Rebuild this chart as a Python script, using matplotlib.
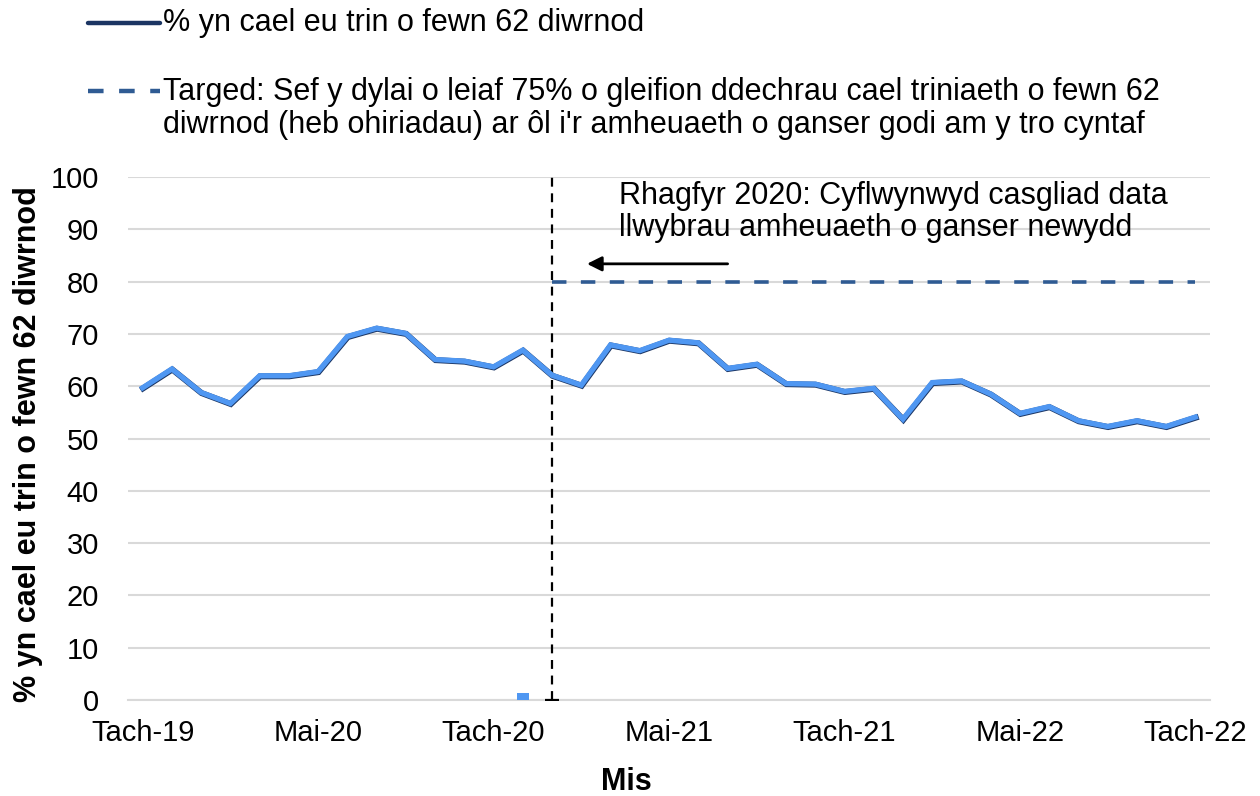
import matplotlib
matplotlib.use("Agg")
import matplotlib.pyplot as plt
import matplotlib.patheffects as pe
from matplotlib.lines import Line2D

plt.rcParams["font.family"] = ["Liberation Sans", "DejaVu Sans"]

# monthly data, Tach-19 (Nov 2019) to Tach-22 (Nov 2022)
months = list(range(37))
pct_62_days = [
    59.7, 63.3, 58.8, 56.7, 62.0, 62.0, 62.8, 69.5, 71.1, 70.1, 65.1, 64.8,
    63.7, 66.9, 62.1, 60.2, 67.9, 66.8, 68.8, 68.3, 63.4, 64.2, 60.5, 60.4,
    59.0, 59.6, 53.7, 60.7, 61.0, 58.5, 54.8, 56.1, 53.4, 52.3, 53.4, 52.3,
    54.1,
]
target_months = list(range(14, 37))
target_vals = [80] * len(target_months)
marker_month = 13
marker_val = 1.3
change_month = 14

tick_pos = [0, 6, 12, 18, 24, 30, 36]
tick_labels = ["Tach-19", "Mai-20", "Tach-20", "Mai-21", "Tach-21", "Mai-22", "Tach-22"]

LIGHT = "#4F97F2"
NAVY = "#1B3563"
TARGET = "#2F5B93"

fig = plt.figure(figsize=(12.6, 7.96), dpi=100)
ax = fig.add_axes([0.1016, 0.1206, 0.8587, 0.657])

ax.set_ylim(0, 100)
ax.set_xlim(-0.5, 36.5)
ax.set_yticks(range(0, 101, 10))
ax.grid(axis="y", color="#d9d9d9", linewidth=1.5)
ax.set_axisbelow(True)
for s in ["top", "right", "left"]:
    ax.spines[s].set_visible(False)
ax.spines["bottom"].set_color("#d9d9d9")
ax.spines["bottom"].set_linewidth(1.5)

ax.set_xticks(tick_pos)
ax.set_xticklabels(tick_labels)
ax.tick_params(axis="both", length=0, labelsize=21)
ax.tick_params(axis="y", pad=21)
ax.tick_params(axis="x", pad=14)

# small column marker
ax.bar([marker_month], [marker_val], width=0.42, color=LIGHT, zorder=3)

# vertical change line
ax.vlines(change_month, 0, 100, colors="black", linestyles=(0, (4, 3)), linewidth=1.6, zorder=4)
ax.plot([change_month], [0], marker="_", color="black", markersize=10, mew=1.6, zorder=4)

# target
ax.plot(target_months, target_vals, color=TARGET, linewidth=2.6, linestyle=(0, (4, 4)), zorder=3)

# main series
ax.plot(months, pct_62_days, color=LIGHT, linewidth=3.8, solid_joinstyle="miter", zorder=5,
        path_effects=[pe.Stroke(linewidth=4.3, foreground=NAVY, offset=(0.3, -0.4)), pe.Normal()])

# annotation
ax.text(16.3, 93.3, "Rhagfyr 2020: Cyflwynwyd casgliad data\nllwybrau amheuaeth o ganser newydd",
        fontsize=22, ha="left", va="center", linespacing=1.1)
ax.annotate("", xy=(15.1, 83.4), xytext=(20.1, 83.4),
            arrowprops=dict(arrowstyle="-|>", color="black", lw=2, mutation_scale=22))

ax.set_ylabel("% yn cael eu trin o fewn 62 diwrnod", fontsize=22, fontweight="bold")
ax.yaxis.set_label_coords(-0.079, 0.49)
ax.set_xlabel("Mis", fontsize=22, fontweight="bold")
ax.xaxis.set_label_coords(0.461, -0.128)

# legend drawn by hand at the top
fig.add_artist(Line2D([88 / 1260, 160 / 1260], [1 - 23 / 796] * 2, color=NAVY, linewidth=3.2,
                      solid_capstyle="round"))
fig.text(163 / 1260, 1 - 23 / 796, "% yn cael eu trin o fewn 62 diwrnod", fontsize=22, va="center")
fig.add_artist(Line2D([88 / 1260, 160 / 1260], [1 - 91 / 796] * 2, color=TARGET, linewidth=3.2,
                      linestyle=(0, (3.5, 3.5)), solid_capstyle="round"))
fig.text(163 / 1260, 1 - 77 / 796,
         "Targed: Sef y dylai o leiaf 75% o gleifion ddechrau cael triniaeth o fewn 62\n"
         "diwrnod (heb ohiriadau) ar ôl i'r amheuaeth o ganser godi am y tro cyntaf",
         fontsize=22, va="top", linespacing=1.15)

fig.savefig("out.png", dpi=100)
